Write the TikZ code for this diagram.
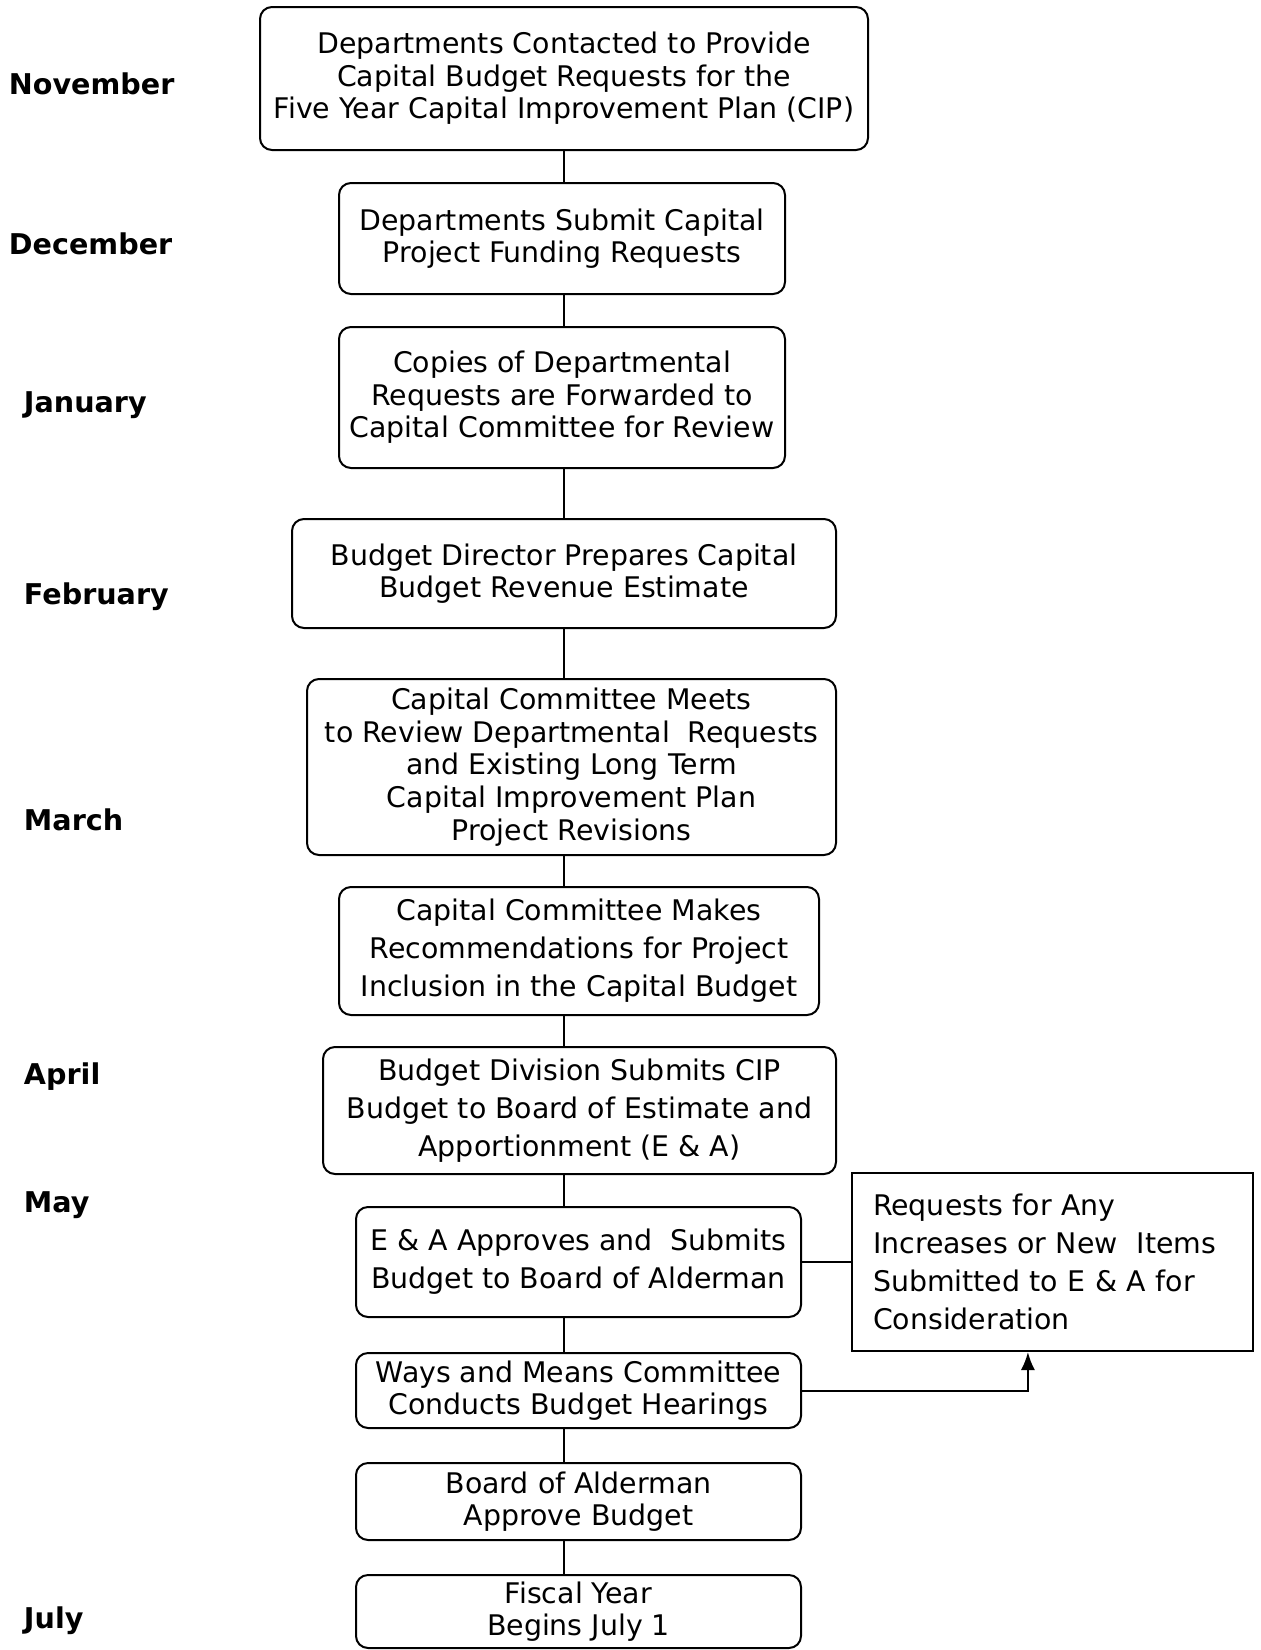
\documentclass[tikz,border=0pt]{standalone}
\usepackage{fontspec}
\setmainfont{DejaVu Sans}
\usetikzlibrary{positioning,calc,arrows.meta}

\begin{document}
\begin{tikzpicture}[x=0.5pt,y=-0.5pt,>=Latex,line width=1pt]

% boxes and month labels
\tikzset{
  stage/.style={draw, rounded corners=6pt, align=center, inner sep=0pt,
                font=\fontsize{14.2}{16.3}\selectfont},
  widelead/.style={font=\fontsize{14.2}{19}\selectfont},
  note/.style={draw, align=left, inner xsep=10.5pt, inner ysep=0pt,
               text width=179.5pt, minimum height=89pt,
               font=\fontsize{14.2}{19}\selectfont},
  month/.style={anchor=west, inner sep=0pt, font=\fontsize{14.3}{16}\selectfont\bfseries}
}

\useasboundingbox (0,0) rectangle (1260,1650);
\coordinate (spine) at (564,0);

% -----------------------------------------
% month column
% -----------------------------------------
\node[month] (nov) at (8,84)   {November};
\node[month] (dec) at (8,244)  {December};
\node[month] (jan) at (23,405) {January};
\node[month] (feb) at (23,597) {February};
\node[month] (mar) at (23,820) {March};
\node[month] (apr) at (23,1077) {April};
\node[month] (may) at (23,1205) {May};
\node[month] (jul) at (23,1621) {July};

% -----------------------------------------
% process chain
% -----------------------------------------
\node[stage, minimum width=304pt, minimum height=71.5pt] (contact) at (564,78.5)
  {Departments Contacted to Provide\\Capital Budget Requests for the\\Five Year Capital Improvement Plan (CIP)};
\node[stage, minimum width=223pt, minimum height=55.5pt] (submit) at (562,238.5)
  {Departments Submit Capital\\Project Funding Requests};
\node[stage, minimum width=223pt, minimum height=70.5pt] (copies) at (562,397.5)
  {Copies of Departmental\\Requests are Forwarded to\\Capital Committee for Review};
\node[stage, minimum width=272pt, minimum height=54.5pt] (revenue) at (564,573.5)
  {Budget Director Prepares Capital\\Budget Revenue Estimate};
\node[stage, minimum width=264.5pt, minimum height=88pt] (meets) at (571.5,767)
  {Capital Committee Meets\\to Review Departmental\ \ Requests\\and Existing Long Term\\Capital Improvement Plan\\Project Revisions};
\node[stage, widelead, minimum width=240pt, minimum height=64pt] (recommend) at (579,951)
  {Capital Committee Makes\\Recommendations for Project\\Inclusion in the Capital Budget};
\node[stage, widelead, minimum width=256.5pt, minimum height=63.5pt] (division) at (579.5,1110.5)
  {Budget Division Submits CIP\\Budget to Board of Estimate and\\Apportionment (E \& A)};
\node[stage, widelead, minimum width=222.5pt, minimum height=55pt] (approve) at (578.5,1262)
  {E \& A Approves and\ \ Submits\\Budget to Board of Alderman};
\node[stage, minimum width=222.5pt, minimum height=37.5pt] (hearings) at (578.5,1390.5)
  {Ways and Means Committee\\Conducts Budget Hearings};
\node[stage, minimum width=222.5pt, minimum height=38.5pt] (alderman) at (578.5,1501.5)
  {Board of Alderman\\Approve Budget};
\node[stage, minimum width=222.5pt, minimum height=36.5pt] (fiscal) at (578.5,1611.5)
  {Fiscal Year\\Begins July 1};

\node[note] (requests) at (1052.5,1262)
  {Requests for Any\\Increases or New\ \ Items\\Submitted to E \& A for\\Consideration};

% connectors
\foreach \a/\b in {contact/submit, submit/copies, copies/revenue, revenue/meets,
                   meets/recommend, recommend/division, division/approve,
                   approve/hearings, hearings/alderman, alderman/fiscal}
  \draw (\a.south -| spine) -- (\b.north -| spine);

\draw (approve.east) -- (approve.east -| requests.west);
\draw[-{Latex[length=9pt,width=7pt]}] (hearings.east)
  -| ($(requests.south west)!0.439!(requests.south east)$);
\end{tikzpicture}
\end{document}
